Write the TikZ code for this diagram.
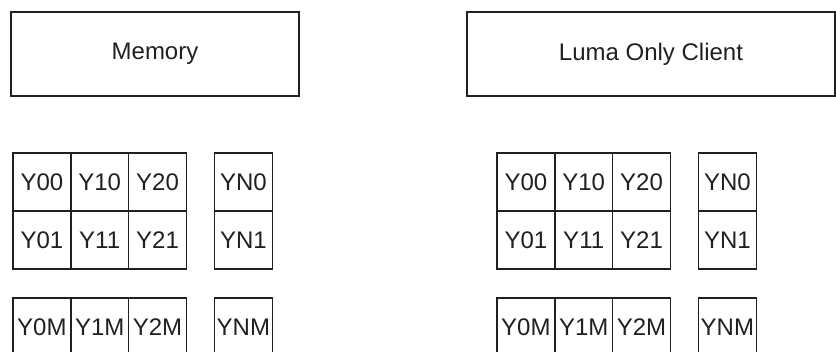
\documentclass[tikz,border=0pt]{standalone}
\usepackage{fontspec}
\setmainfont{Liberation Sans}
\usepackage{xcolor}
\usetikzlibrary{math}
\definecolor{myink}{RGB}{35, 31, 32}

\tikzset{
  cell/.style={draw=myink, text=myink, line width=1.6, minimum width=57.8, minimum height=58, inner sep=0, font=\fontsize{24}{27}\selectfont},
  titlebox/.style={draw=myink, text=myink, line width=1.6, minimum height=84, inner sep=0, font=\fontsize{24}{27}\selectfont}
}

\begin{document}
\begin{tikzpicture}[x=1pt,y=-1pt]
\tikzmath{
\W=57.8;
\G=201.5;
}
\useasboundingbox (0,0) rectangle (836,352);
\clip (0,0) rectangle (836,352);

\node[titlebox, minimum width=288] (mem) at (155,54) {Memory};
\node[titlebox, minimum width=368] (client) at (651,54) {Luma Only Client};

% luma sample grids
\foreach \p/\x in {m/13, c/497}{
  \foreach \r/\y in {0/182, 1/240, M/327}{
    \foreach \i in {0,1,2}{
      \node[cell] (\p-\i\r) at (\x+\W*\i+\W/2, \y) {Y\i\r};
    }
    \node[cell] (\p-N\r) at (\x+\G+\W/2, \y) {YN\r};
  }
}
\end{tikzpicture}
\end{document}
